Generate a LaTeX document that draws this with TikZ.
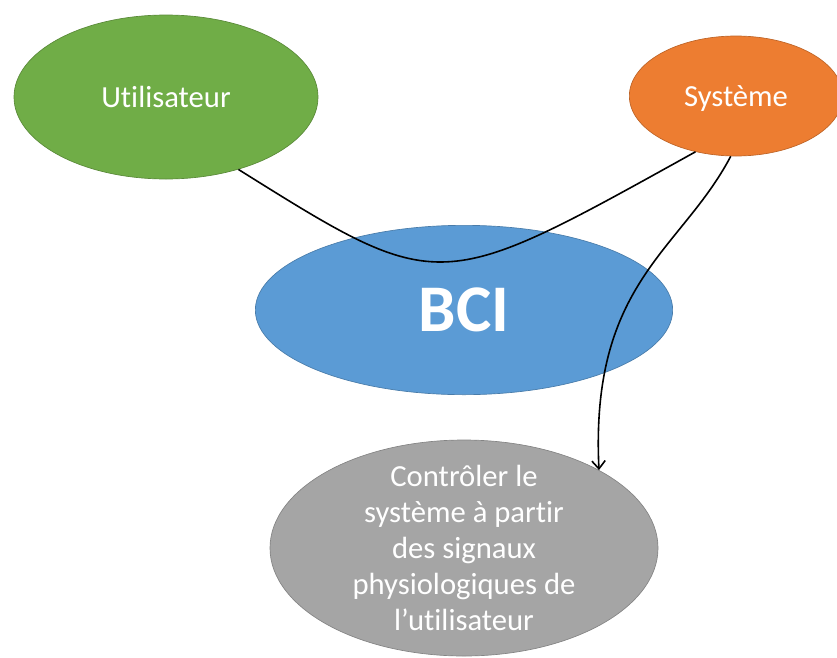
\documentclass[tikz,border=0pt]{standalone}
\usepackage{fontspec}
\setmainfont[Ligatures=NoCommon]{Carlito}
\usepackage{tikz}
\usetikzlibrary{shapes.geometric,arrows.meta}
\definecolor{usrgreen}{RGB}{112,173,71}
\definecolor{sysorange}{RGB}{237,125,49}
\definecolor{bciblue}{RGB}{91,155,213}
\definecolor{ctrlgray}{RGB}{165,165,165}
\tikzset{
	bulle/.style={ellipse, inner sep=0pt, text=white, align=center, line width=0.5pt},
	petit/.style={font=\fontsize{23}{27}\selectfont},
	lien/.style={line width=1.2pt, black}
}

\begin{document}
\begin{tikzpicture}[x=0.75pt,y=-0.75pt]
	\useasboundingbox (0,0) rectangle (837,657);
	
	\node[bulle, petit, fill=usrgreen, draw=usrgreen!80!black, minimum width=228pt, minimum height=123pt] (user) at (166,97) {Utilisateur};
	\node[bulle, petit, fill=sysorange, draw=sysorange!80!black, text depth=0pt, minimum width=160pt, minimum height=90pt] (sys) at (736,96) {Système};
	\node[bulle, fill=bciblue, draw=bciblue!80!black, minimum width=313pt, minimum height=127pt, font=\fontsize{50}{60}\selectfont\bfseries] (bci) at (464,310) {BCI};
	\node[bulle, petit, fill=ctrlgray, draw=ctrlgray!80!black, inner ysep=-10pt, minimum width=291pt, minimum height=162pt] (ctrl) at (464,548) {Contrôler le\\système à partir\\des signaux\\physiologiques de\\l’utilisateur};
	
	\draw[lien] (user.-45) .. controls +(203,127) and +(-258,143) .. (sys.-126);
	\draw[lien, -{Straight Barb[length=6pt,width=10pt]}] (sys.-95) .. controls +(-50,95) and +(-9,-188) .. (ctrl.30);
\end{tikzpicture}
\end{document}
